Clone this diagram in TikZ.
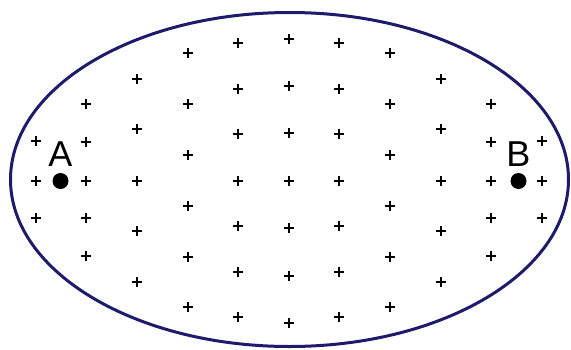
\documentclass[tikz,border=0pt]{standalone}
\usepackage{fontspec}
\setsansfont{Liberation Sans}
\usepackage{xcolor}
\usepackage{tikz}
\usetikzlibrary{positioning}
\definecolor{rimblue}{RGB}{30,26,108}

\begin{document}
\begin{tikzpicture}[
  x=1pt, y=-1pt,
  font=\sffamily,
  rim/.style={draw=rimblue, line width=3pt},
  plusmark/.style={line width=2.7pt},
  spot/.style={circle, fill=black, inner sep=0pt, minimum size=16pt},
  tag/.style={inner sep=0pt, font=\fontsize{36}{36}\selectfont\sffamily}
]
\useasboundingbox (0,0) rectangle (571,349);
\draw[rim] (289.5,179.5) ellipse [x radius=279, y radius=167];
% field marks, column by column
\foreach \x/\ylist in {36/{141,181,218}, 86/{104,142,181,218,256},
  137/{79,129,181,231,282}, 188/{53,104,155,206,257,307},
  238/{43,89,134,181,226,272,317}, 289/{39,86,133,181,228,276,323},
  339/{43,89,134,181,226,272,317}, 390/{53,104,155,206,257,307},
  441/{79,129,181,231,282}, 491/{104,142,181,218,256},
  542/{141,181,218}}
  \foreach \y in \ylist
    \draw[plusmark] (\x,\y) +(-4.8,0) -- +(4.8,0) +(0,-4.8) -- +(0,4.8);
\node[spot] (dotA) at (60.5,181) {};
\node[spot] (dotB) at (518.5,181) {};
\node[tag, above=6pt of dotA] (labA) {A};
\node[tag, above=6pt of dotB] (labB) {B};
\end{tikzpicture}
\end{document}
